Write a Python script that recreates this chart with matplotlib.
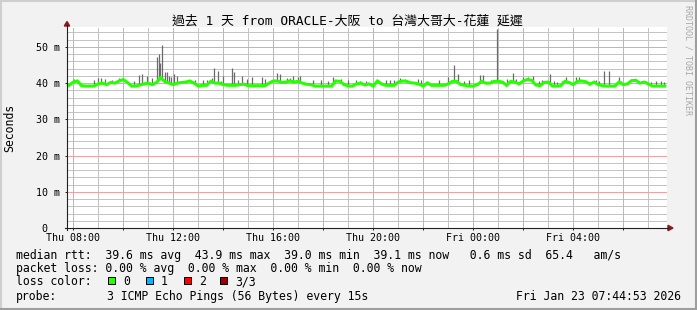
import numpy as np
import matplotlib
matplotlib.use("Agg")
import matplotlib.pyplot as plt
from matplotlib.patches import Polygon, Rectangle
from matplotlib.lines import Line2D

plt.rcParams['font.family'] = ['DejaVu Sans Mono', 'Noto Sans CJK TC']
plt.rcParams['lines.scale_dashes'] = False

W, H = 697, 310

title = "過去 1 天 from ORACLE-大阪 to 台灣大哥大-花蓮 延遲"
ylabel = "Seconds"
credit = "RRDTOOL / TOBI OETIKER"

# time axis: hours counted from Thu 00:00, graph ends Fri 07:44:53
start_hour = 7 + 44 / 60 + 53 / 3600
span_hours = 24
sample_step = 1 / 6   # one median value every 10 minutes

# median rtt (ms), one value per 10 minutes
median_ms = [
    39.4, 40.3, 40.6, 39.3, 39.2, 39.2, 39.2, 39.8, 40.0, 39.6, 40.2, 40.0,
    40.6, 41.0, 40.2, 39.2, 39.2, 39.5, 39.8, 40.0, 39.6, 40.2, 41.5, 40.4,
    40.0, 39.6, 40.0, 40.2, 40.3, 40.6, 40.0, 39.2, 39.4, 39.4, 40.5, 40.0,
    40.0, 39.6, 39.4, 39.4, 39.4, 39.6, 39.7, 39.3, 39.3, 39.3, 39.3, 39.3,
    40.0, 40.6, 40.6, 40.2, 40.3, 40.6, 40.3, 40.5, 40.0, 39.7, 39.6, 39.2,
    39.2, 39.2, 39.2, 39.2, 40.6, 40.5, 39.6, 39.2, 39.2, 39.8, 40.0, 39.5,
    39.8, 39.2, 40.6, 39.8, 39.4, 39.4, 39.4, 40.3, 40.6, 40.5, 40.1, 40.0,
    39.7, 39.2, 40.1, 39.4, 39.4, 39.4, 39.4, 39.8, 40.5, 40.5, 39.6, 39.4,
    39.2, 39.2, 39.6, 40.5, 40.0, 40.0, 40.5, 40.5, 40.3, 39.4, 40.5, 40.3,
    39.8, 40.6, 41.0, 40.8, 39.5, 39.3, 40.2, 40.3, 39.2, 39.2, 39.3, 40.5,
    40.2, 39.6, 40.5, 40.6, 40.4, 39.7, 40.3, 39.6, 39.3, 39.2, 39.2, 39.2,
    40.3, 39.6, 39.8, 40.7, 40.8, 40.0, 40.3, 39.8, 39.2, 39.2, 39.2, 39.2,
]

# smoke: highest ping of the slower samples (hour since Thu 00:00, ms)
smoke_hours = [
    8.02, 8.15, 8.82, 8.99, 9.11, 9.27, 9.55, 9.82, 10.42, 10.62, 10.75, 10.95,
    11.15, 11.35, 11.41, 11.47, 11.55, 11.65, 11.73, 11.83, 11.91, 12.02, 12.15,
    12.47, 12.87, 13.19, 13.34, 13.54, 13.64, 13.80, 13.91, 13.99, 14.36, 14.44,
    14.60, 14.74, 14.94, 15.14, 15.54, 15.67, 16.14, 16.27, 16.55, 16.67, 16.80,
    17.00, 17.07, 17.59, 17.92, 18.19, 18.39, 18.72, 18.99, 19.32, 19.46, 19.71,
    20.51, 20.67, 20.83, 21.06, 21.26, 21.78, 21.91, 22.64, 22.98, 23.24, 23.38,
    23.64, 23.84, 24.27, 24.38, 24.71, 24.80, 24.95, 25.11, 25.35, 25.58, 25.71,
    25.98, 26.18, 26.38, 26.63, 26.76, 27.05, 27.23, 27.36, 27.56, 27.70, 28.11,
    28.23, 28.63, 28.90, 29.03, 29.23, 29.43, 29.83, 29.90, 30.27, 30.43, 30.70,
    30.90, 31.10, 31.30, 31.50, 31.63,
]
smoke_top_ms = [
    41.1, 41.0, 40.8, 41.3, 41.5, 41.1, 40.8, 41.5, 40.6, 42.2, 42.5, 42.0,
    41.5, 47.1, 48.0, 45.5, 50.6, 43.0, 43.0, 42.0, 41.8, 42.5, 42.1,
    40.6, 41.0, 41.0, 40.8, 41.3, 44.1, 43.4, 40.6, 42.0, 44.2, 43.0,
    40.8, 42.0, 41.2, 41.8, 41.8, 41.2, 42.8, 42.5, 41.5, 41.5, 42.0,
    41.8, 42.0, 41.0, 40.8, 40.6, 41.8, 41.2, 40.8, 40.8, 40.6, 40.6,
    41.0, 41.0, 41.0, 41.5, 41.2, 41.1, 40.8, 40.8, 41.6, 45.1, 42.5,
    40.6, 40.8, 42.2, 42.2, 40.8, 40.6, 55.0, 40.6, 41.1, 42.7, 41.2,
    41.6, 41.6, 42.0, 40.6, 40.9, 42.5, 40.6, 40.4, 40.6, 41.8, 41.6,
    41.6, 40.4, 40.9, 40.6, 43.4, 43.4, 41.6, 40.6, 41.0, 40.6, 40.4,
    40.6, 40.4, 40.6, 40.6, 40.4,
]

xtick_hours = [8, 12, 16, 20, 24, 28]
xtick_labels = ["Thu 08:00", "Thu 12:00", "Thu 16:00", "Thu 20:00", "Fri 00:00", "Fri 04:00"]
ytick_ms = [0, 10, 20, 30, 40, 50]
ytick_labels = ["0  ", "10 m", "20 m", "30 m", "40 m", "50 m"]

# grid: red every 2 h / 10 ms, grey every 1 h / 2 ms
major_vgrid = [8, 10, 12, 14, 16, 18, 20, 22, 24, 26, 28, 30]
minor_vgrid = [9, 11, 13, 15, 17, 19, 21, 23, 25, 27, 29, 31]
major_hgrid = [10, 20, 30, 40, 50]
minor_hgrid = [2, 4, 6, 8, 12, 14, 16, 18, 22, 24, 26, 28, 32, 34, 36, 38,
               42, 44, 46, 48, 52, 54]

stats_rtt = "median rtt:  39.6 ms avg  43.9 ms max  39.0 ms min  39.1 ms now   0.6 ms sd  65.4   am/s"
stats_loss = "packet loss: 0.00 % avg  0.00 % max  0.00 % min  0.00 % now"
loss_title = "loss color:"
loss_labels = ["0", "1", "2", "3/3"]
loss_colors = ["#26ff00", "#00b8ff", "#ff0000", "#a00000"]
probe_title = "probe:"
probe_text = "3 ICMP Echo Pings (56 Bytes) every 15s"
stamp = "Fri Jan 23 07:44:53 2026"


def fx(x):
    return x / W


def fy(y):
    return 1 - y / H


fig = plt.figure(figsize=(W / 100, H / 100), dpi=100)
fig.patch.set_facecolor("#f2f2f2")

ax = fig.add_axes([fx(67), fy(228), 600 / W, 201 / H])
ax.set_facecolor("white")
ax.set_xlim(start_hour, start_hour + span_hours)
ax.set_ylim(0, 55.5)

# dotted grid, 1 px on / 1 px off, drawn without antialiasing so dots stay crisp
dots = (0, (0.72, 0.72))
t0, t1 = start_hour, start_hour + span_hours
grid_kw = dict(lw=1.0, linestyles=dots, antialiased=False, snap=True)
ax.hlines(minor_hgrid, t0, t1, colors="#c4c4c4", zorder=0.5, **grid_kw)
ax.vlines(minor_vgrid, 0, 55.5, colors="#c4c4c4", zorder=0.5, **grid_kw)
ax.hlines(major_hgrid, t0, t1, colors="#f4a0a0", zorder=0.6, **grid_kw)
ax.vlines(major_vgrid, 0, 55.5, colors="#f4a0a0", zorder=0.6, **grid_kw)

sample_hours = start_hour + sample_step * (np.arange(len(median_ms)) + 0.5)
median = np.array(median_ms)

# smoke spikes from the median up to the slowest ping
base = np.interp(smoke_hours, sample_hours, median)
ax.vlines(smoke_hours, base, smoke_top_ms, color="#6a6a6a", lw=0.9, zorder=2)
ax.plot(sample_hours, median, color=loss_colors[0], lw=2.2, zorder=3,
        solid_joinstyle="miter")

ax.set_xticks(major_vgrid)
ax.set_xticklabels([xtick_labels[xtick_hours.index(h)] if h in xtick_hours else ""
                    for h in major_vgrid])
ax.set_yticks(ytick_ms)
ax.set_yticklabels(ytick_labels)

ax.tick_params(which="major", length=1.5, width=0.7, color="#202020",
               labelsize=7.2, pad=2)
ax.tick_params(axis="y", pad=3.6)
for s in ax.spines.values():
    s.set_visible(False)

# axes with arrows
fig.add_artist(Line2D([fx(67), fx(67)], [fy(230), fy(25)], color="#202020", lw=0.8))
fig.add_artist(Line2D([fx(65), fx(668)], [fy(228), fy(228)], color="#202020", lw=0.8))
fig.add_artist(Polygon([(fx(64.3), fy(26)), (fx(69.7), fy(26)), (fx(67), fy(21.5))],
                       closed=True, color="#8b1a1a", transform=fig.transFigure))
fig.add_artist(Polygon([(fx(668), fy(225.3)), (fx(668), fy(230.7)), (fx(673), fy(228))],
                       closed=True, color="#8b1a1a", transform=fig.transFigure))

# frame shading
fig.add_artist(Line2D([0, 1], [fy(1), fy(1)], color="#cfcfcf", lw=1.5))
fig.add_artist(Line2D([fx(1), fx(1)], [0, 1], color="#cfcfcf", lw=1.5))
fig.add_artist(Line2D([0, 1], [fy(309), fy(309)], color="#9e9e9e", lw=1.5))
fig.add_artist(Line2D([fx(696), fx(696)], [0, 1], color="#9e9e9e", lw=1.5))

fig.text(fx(347.5), fy(21.5), title, ha="center", va="center", fontsize=9.3)
fig.text(fx(10), fy(128), ylabel, ha="center", va="center", rotation=90, fontsize=8.3)
fig.text(fx(688), fy(5), credit, ha="center", va="top", rotation=270,
         fontsize=6, color="#a8a8a8")

fs = 8.3
fig.text(fx(16), fy(255), stats_rtt, ha="left", va="center", fontsize=fs)
fig.text(fx(16), fy(268.3), stats_loss, ha="left", va="center", fontsize=fs)
fig.text(fx(16), fy(281.7), loss_title, ha="left", va="center", fontsize=fs)
box_x = [108, 145.7, 184, 220]
for bx, lab, col in zip(box_x, loss_labels, loss_colors):
    fig.add_artist(Rectangle((fx(bx), fy(284)), 7 / W, 7 / H, facecolor=col,
                             edgecolor="black", lw=0.7, transform=fig.transFigure))
    fig.text(fx(bx + 15.3), fy(281.7), lab, ha="left", va="center", fontsize=fs)
fig.text(fx(16), fy(296.7), probe_title, ha="left", va="center", fontsize=fs)
fig.text(fx(107.3), fy(296.7), probe_text, ha="left", va="center", fontsize=fs)
fig.text(fx(681), fy(296.7), stamp, ha="right", va="center", fontsize=fs)

fig.savefig("out.png", dpi=100, facecolor=fig.get_facecolor())
